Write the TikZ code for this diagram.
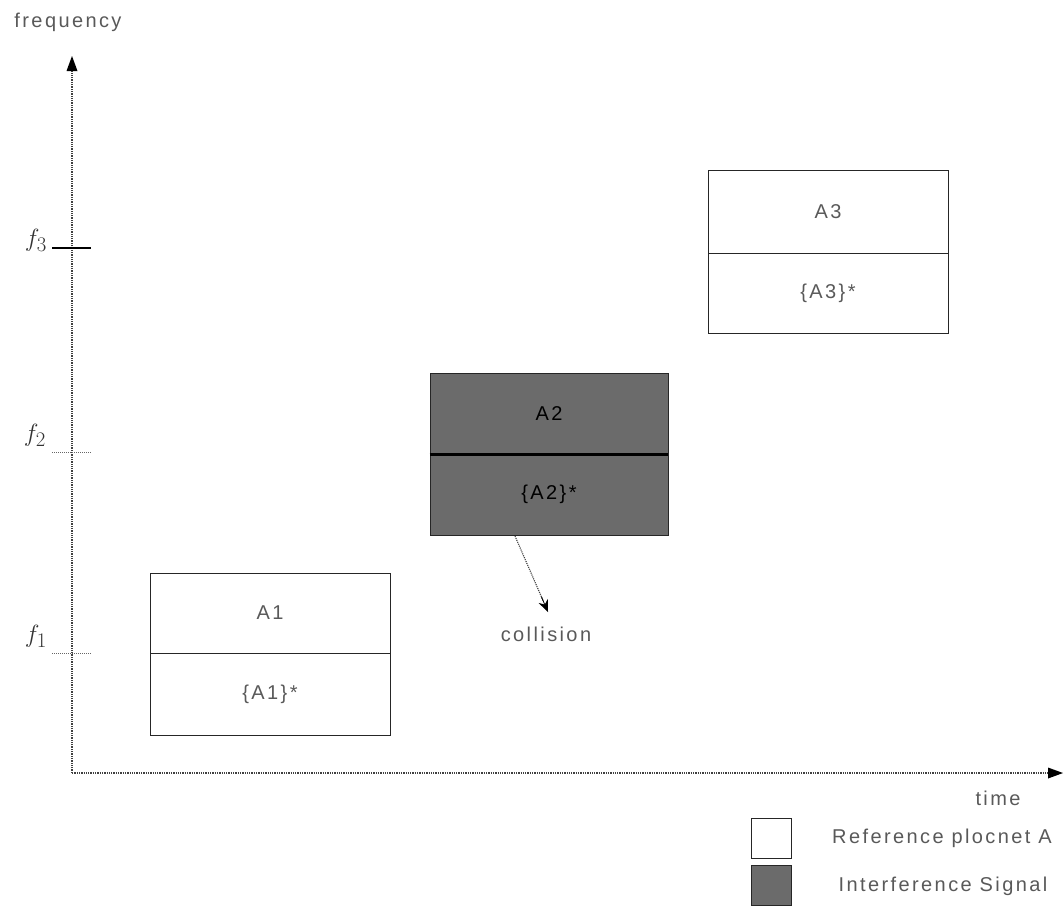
\documentclass[tikz,border=0pt]{standalone}
\usepackage{fontspec}
\setmainfont{Liberation Sans}[LetterSpace=12]
\usetikzlibrary{arrows.meta,calc}
\definecolor{txt}{gray}{0.35}
\definecolor{intf}{rgb}{0.42,0.42,0.42}
\begin{document}
\begin{tikzpicture}[x=1pt,y=-1pt,
  lbl/.style={text=txt,font=\fontsize{20}{24}\selectfont,inner sep=0pt},
  half/.style={draw=black!85,line width=0.9pt,minimum width=240pt,inner sep=0pt,
     text=txt,font=\fontsize{20}{24}\selectfont},
  ihalf/.style={half,fill=intf,text=black,minimum width=238pt},
  axis/.style={draw=black!75,line width=1.3pt,densely dotted},
  tick/.style={draw=black!60,line width=1pt,densely dotted},
  flab/.style={font=\fontsize{29}{32}\selectfont,text=black!80,inner sep=0pt},
  leg/.style={draw=black!85,line width=0.9pt,minimum size=40pt,inner sep=0pt}]
\useasboundingbox (0,0) rectangle (1064,906);
% axes
\coordinate (o) at (72,773);
\coordinate (ytop) at (72,56);
\coordinate (xend) at (1063,773);
\draw[axis] (o) -- ([yshift=-10pt]ytop);
\fill[black] (ytop) -- ++(-5.5,15) -- ++(11,0) -- cycle;
\draw[axis] (o) -- ([xshift=-10pt]xend);
\fill[black] (xend) -- ++(-15,-5.5) -- ++(0,11) -- cycle;
\node[lbl] (freq) at (68,22) {frequency};
\node[lbl] (time) at (998,798) {time};
% ticks
\coordinate (t3a) at (52,248); \coordinate (t3b) at (91,248);
\coordinate (t2a) at (52,452); \coordinate (t2b) at (91,452);
\coordinate (t1a) at (52,653); \coordinate (t1b) at (91,653);
\draw[black,line width=2pt] (t3a) -- (t3b);
\draw[tick] (t2a) -- (t2b);
\draw[tick] (t1a) -- (t1b);
\node[flab] (f3) at (36,240) {$f_3$};
\node[flab] (f2) at (35,435) {$f_2$};
\node[flab] (f1) at (36,636) {$f_1$};
% A1
\node[half,minimum height=80pt] (a1t) at (270,613) {A1};
\node[half,minimum height=82pt] (a1b) at (270,694) {\{A1\}*};
% A2
\node[ihalf,minimum height=81pt] (a2t) at (549,413.5) {A2};
\node[ihalf,minimum height=81pt] (a2b) at (549,494.5) {\{A2\}*};
\draw[black,line width=3pt] (a2t.south west) -- (a2t.south east);
% A3
\node[half,minimum height=83pt] (a3t) at (828,211.5) {A3};
\node[half,minimum height=80pt] (a3b) at (828,293) {\{A3\}*};
% collision
\coordinate (cs) at (515,536);
\coordinate (ce) at (548,612);
\node[lbl] (coll) at (546,634) {collision};
\draw[draw=black!75,line width=1.1pt,densely dotted] (cs) -- ($(cs)!0.85!(ce)$);
\draw[solid,line width=0.8pt,-{Stealth[length=12pt,width=10pt]}] ($(cs)!0.8!(ce)$) -- (ce);
% legend
\node[leg] (lg1) at (771,838) {};
\node[lbl] (lt1) at (942,838) {Reference plocnet A};
\node[leg,fill=intf] (lg2) at (771,885) {};
\node[lbl] (lt2) at (943,886) {Interference Signal};
\end{tikzpicture}
\end{document}
